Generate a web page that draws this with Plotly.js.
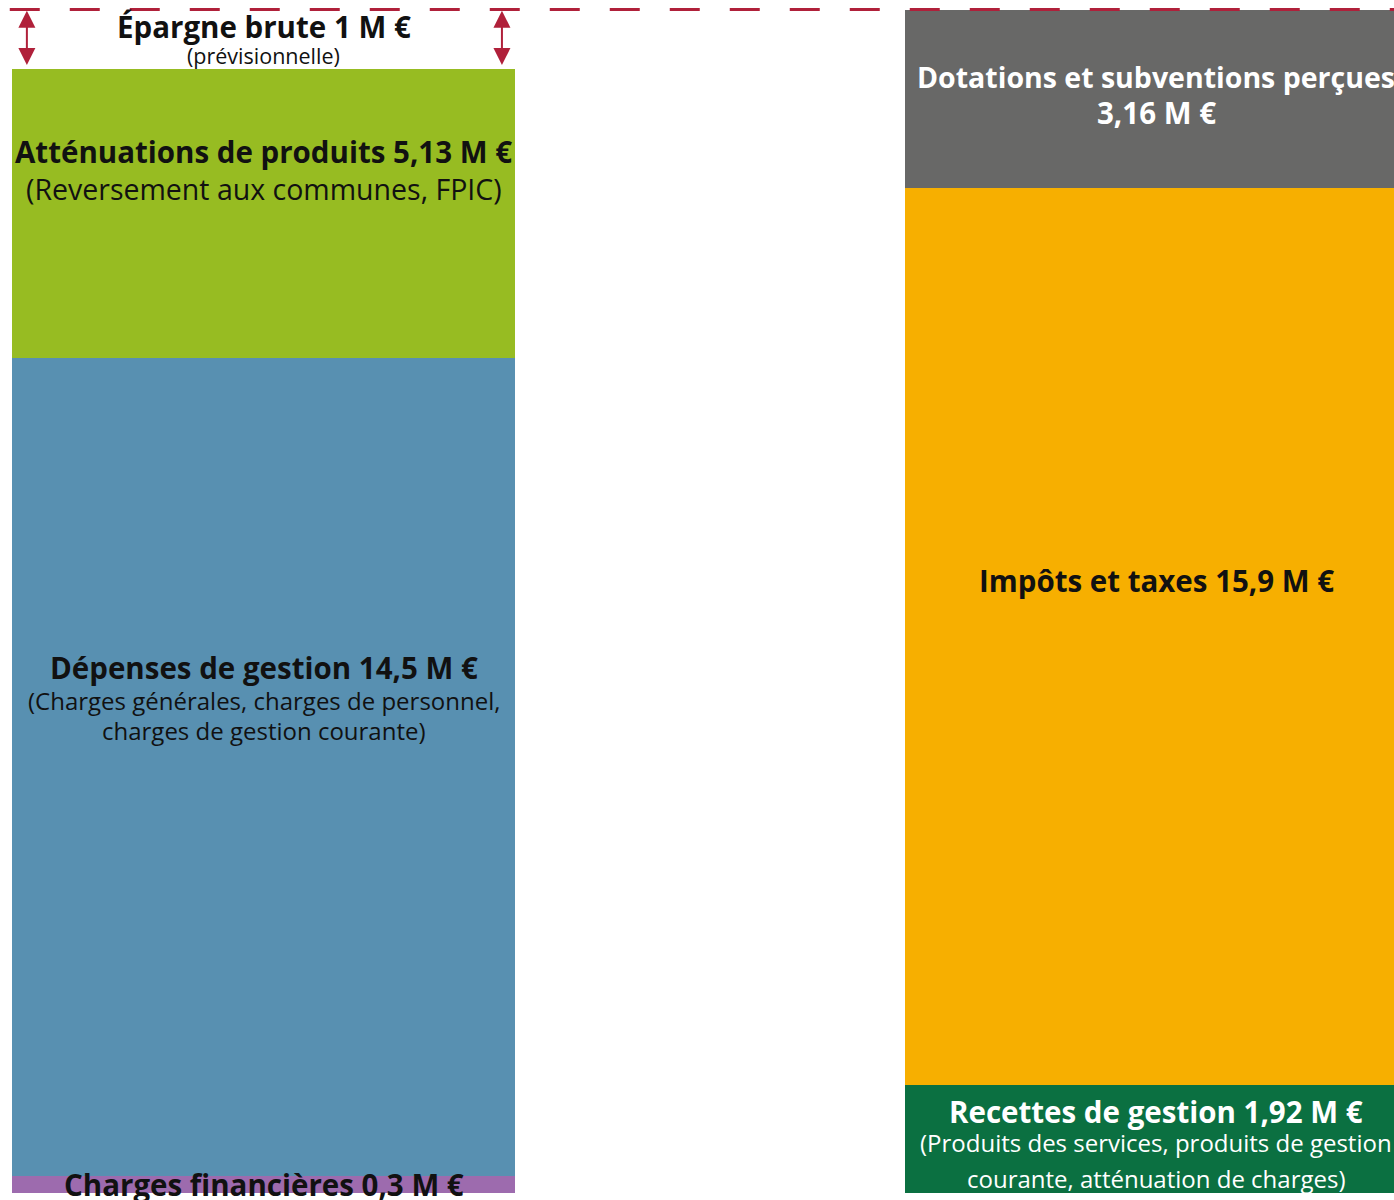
<!DOCTYPE html>
<html>
<head>
<meta charset="utf-8">
<script src="https://cdn.plot.ly/plotly-3.0.1.min.js"></script>
<style>html,body{margin:0;padding:0;background:#fff;}#chart{width:1394px;height:1200px;}</style>
</head>
<body>
<div id="chart"></div>
<script>
// ---- Data ----
const columns = ['Dépenses', 'Recettes'];

const depLabels = ['Charges financières', 'Dépenses de gestion', 'Atténuations de produits'];
const depValues = [0.3, 14.5, 5.13];
const depColors = ['#9D6BAE', '#5890B1', '#97BC22'];
const depTextColors = ['#111111', '#111111', '#111111'];

const epargneLabel = 'Épargne brute';
const epargneValue = 1;

const recLabels = ['Recettes de gestion', 'Impôts et taxes', 'Dotations et subventions perçues'];
const recValues = [1.92, 15.9, 3.16];
const recColors = ['#0B7041', '#F7AF00', '#686867'];
const recTextColors = ['#FFFFFF', '#111111', '#FFFFFF'];

// label lines: [text, size, bold, pixel shift from segment middle]
const depText = [
  [['Charges financières 0,3 M €', 29.5, true, 0]],
  [['Dépenses de gestion 14,5 M €', 29.5, true, 100],
   ['(Charges générales, charges de personnel,', 24, false, 67],
   ['charges de gestion courante)', 24, false, 37]],
  [['Atténuations de produits 5,13 M €', 29.5, true, 62],
   ['(Reversement aux communes, FPIC)', 28.5, false, 25]]
];
const epargneText = [['Épargne brute 1 M €', 29.5, true, 14], ['(prévisionnelle)', 21.5, false, -15]];
const recText = [
  [['Recettes de gestion 1,92 M €', 29.5, true, 27],
   ['(Produits des services, produits de gestion', 24, false, -4],
   ['courante, atténuation de charges)', 24, false, -40]],
  [['Impôts et taxes 15,9 M €', 29.5, true, 56]],
  [['Dotations et subventions perçues', 28.5, true, 22],
   ['3,16 M €', 29.5, true, -14]]
];

// ---- Build ----
const BAR_W = 0.563;
const FONT = '"Open Sans", "Noto Sans", sans-serif';
const traces = [];
const annotations = [];

function addSeg(col, name, value, color) {
  traces.push({type: 'bar', x: [col], y: [value], name: name, width: BAR_W,
    marker: {color: color, line: {width: 0}}, hoverinfo: 'skip'});
}
function addLines(col, mid, lines, color) {
  lines.forEach(l => {
    annotations.push({x: col, y: mid, xref: 'x', yref: 'y', yshift: l[3],
      text: l[2] ? '<b>' + l[0] + '</b>' : l[0], showarrow: false,
      xanchor: 'center', yanchor: 'middle',
      font: {family: FONT, size: l[1], color: color}});
  });
}

let cum = 0;
depValues.forEach((v, i) => {
  addSeg(columns[0], depLabels[i], v, depColors[i]);
  addLines(columns[0], cum + v / 2, depText[i], depTextColors[i]);
  cum += v;
});
const depTotal = cum;
traces.push({type: 'bar', x: [columns[0]], y: [epargneValue], name: epargneLabel, width: BAR_W,
  marker: {color: 'rgba(0,0,0,0)'}, hoverinfo: 'skip'});
addLines(columns[0], depTotal + epargneValue / 2, epargneText, '#111111');

cum = 0;
recValues.forEach((v, i) => {
  addSeg(columns[1], recLabels[i], v, recColors[i]);
  addLines(columns[1], cum + v / 2, recText[i], recTextColors[i]);
  cum += v;
});
const recTotal = cum;

// double arrows for Épargne brute
const ARROW = '#B0203A';
[-0.265, 0.267].forEach(dx => {
  annotations.push({x: dx, y: recTotal - 0.02, ax: dx, ay: depTotal + 0.04,
    xref: 'x', yref: 'y', axref: 'x', ayref: 'y', text: '', showarrow: true,
    arrowhead: 2, startarrowhead: 2, arrowside: 'end+start', arrowsize: 1.7, startarrowsize: 1.7,
    arrowwidth: 2, arrowcolor: ARROW});
});

const layout = {
  width: 1394, height: 1200,
  margin: {l: 0, r: 0, t: 0, b: 0},
  paper_bgcolor: '#FFFFFF', plot_bgcolor: '#FFFFFF',
  barmode: 'stack', showlegend: false, hovermode: false,
  xaxis: {type: 'category', range: [-0.2951, 1.266], visible: false, fixedrange: true},
  yaxis: {range: [-0.124, 21.15], visible: false, fixedrange: true},
  shapes: [{type: 'line', xref: 'paper', yref: 'y', x0: 0.007, x1: 1, y0: recTotal, y1: recTotal,
    line: {color: ARROW, width: 3, dash: '30px,30px'}, layer: 'above'}],
  annotations: annotations
};

Plotly.newPlot('chart', traces, layout, {staticPlot: true, displayModeBar: false});
</script>
</body>
</html>
